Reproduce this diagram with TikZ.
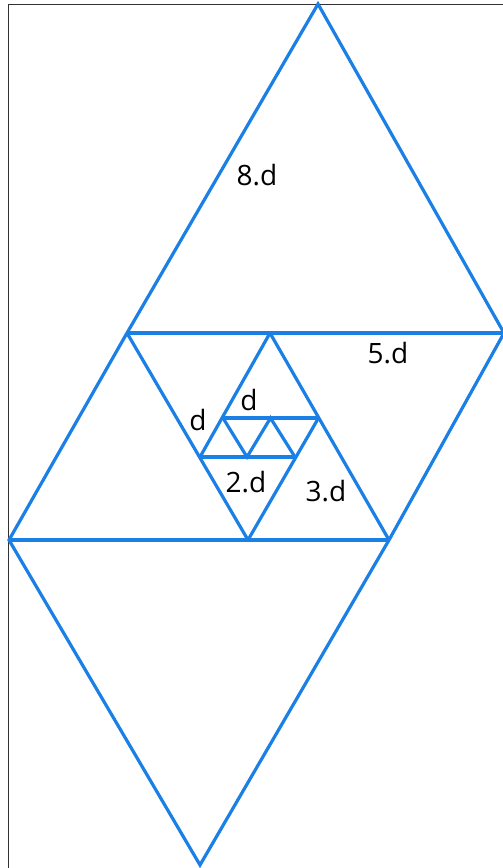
\documentclass[tikz,border=0pt]{standalone}
\usepackage{fontspec}
\setmainfont{Open Sans}
\definecolor{lineblue}{RGB}{26,128,229}
\definecolor{framegray}{RGB}{50,50,50}
\begin{document}
\begin{tikzpicture}[x=1pt,y=-1pt,
  tri/.style={draw=lineblue,line width=3.2pt,line join=miter},
  framestyle/.style={draw=framegray,line width=1pt},
  lbl/.style={inner sep=0pt,font=\fontsize{28}{32}\selectfont,text=black}]
\useasboundingbox (0,0) rectangle (503,868);
\fill[white] (0,0) rectangle (503,868);
% frame
\coordinate (f1) at (8,868);
\coordinate (f2) at (8,4);
\coordinate (f3) at (503,4);
\draw[framestyle] (f1) -- (f2) -- (f3);
% lattice points
\coordinate (T) at (318,4);
\coordinate (UL) at (127,333);
\coordinate (R) at (504,333);
\coordinate (M) at (270,333);
\coordinate (A) at (9,540);
\coordinate (B) at (248,540);
\coordinate (C) at (389,540);
\coordinate (Bot) at (200,865);
\coordinate (P) at (318.5,418);
\coordinate (Q) at (223,418);
\coordinate (G) at (270.5,418);
\coordinate (D) at (200,457);
\coordinate (F) at (247,457);
\coordinate (E) at (295,457);
% outline
\draw[tri] (T) -- (R) -- (C) -- (Bot) -- (A) -- (UL) -- cycle;
% inner lines
\draw[tri] (UL) -- (R);
\draw[tri] (A) -- (C);
\draw[tri] (UL) -- (B);
\draw[tri] (M) -- (C);
\draw[tri] (M) -- (D);
\draw[tri] (P) -- (B);
\draw[tri] (Q) -- (P);
\draw[tri] (D) -- (E);
\draw[tri] (Q) -- (F) -- (G) -- (E);
% labels
\node[lbl] (l8) at (257,175) {8.d};
\node[lbl] (l5) at (388,353) {5.d};
\node[lbl] (l1a) at (198,420) {d};
\node[lbl] (l1b) at (249,400) {d};
\node[lbl] (l2) at (246,482) {2.d};
\node[lbl] (l3) at (326,491) {3.d};
\end{tikzpicture}
\end{document}
